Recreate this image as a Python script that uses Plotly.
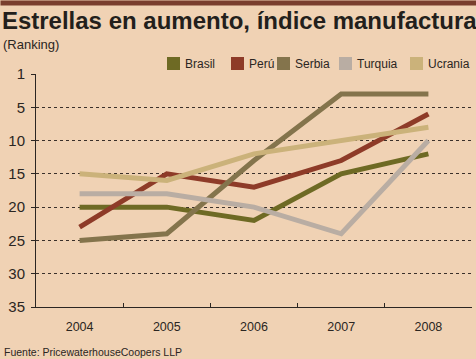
import plotly.graph_objects as go

years = ["2004", "2005", "2006", "2007", "2008"]
brasil = [20, 20, 22, 15, 12]
peru = [23, 15, 17, 13, 6]
serbia = [25, 24, 13, 3, 3]
turquia = [18, 18, 20, 24, 10]
ucrania = [15, 16, 12, 10, 8]

series_names = ["Brasil", "Perú", "Serbia", "Turquia", "Ucrania"]
series_values = [brasil, peru, serbia, turquia, ucrania]
series_colors = ["#6e6a24", "#8e3b28", "#84744c", "#b9ada3", "#cbb27a"]

tick_vals = [0, 5, 10, 15, 20, 25, 30, 35]
tick_text = ["1", "5", "10", "15", "20", "25", "30", "35"]

BG = "#f0d2b4"
TXT = "#2b2622"
FONT = "Liberation Sans, Arial, sans-serif"

W, H = 476, 359
L, R, T, B = 36, 4, 74, 52
PW, PH = W - L - R, H - T - B


def px_x(p):
    return (p - L) / PW


def px_y(p):
    return (H - B - p) / PH


fig = go.Figure()
for name, vals, col in zip(series_names, series_values, series_colors):
    fig.add_trace(go.Scatter(x=years, y=vals, mode="lines", name=name,
                             line=dict(color=col, width=5)))

# manual legend (swatch + label) placed above the plot
legend_swatch_left = [167, 231, 277, 339, 410]
shapes = []
annotations = [
    dict(text=" ", xref="paper", yref="paper", x=px_x(0), y=px_y(0),
         xanchor="left", yanchor="top", showarrow=False, width=W + 4, height=4,
         bgcolor="#7a3e2e", borderpad=0, font=dict(size=2)),
]
for name, col, sx in zip(series_names, series_colors, legend_swatch_left):
    shapes.append(dict(type="rect", xref="paper", yref="paper",
                       x0=px_x(sx), x1=px_x(sx + 13), y0=px_y(70), y1=px_y(57),
                       fillcolor=col, line=dict(width=0)))
    annotations.append(dict(text=name, xref="paper", yref="paper", x=px_x(sx + 16),
                            y=px_y(64), xanchor="left", yanchor="middle",
                            showarrow=False, font=dict(size=12, color=TXT)))

annotations += [
    dict(text="(Ranking)", xref="paper", yref="paper", x=px_x(1), y=px_y(45),
         xanchor="left", yanchor="middle", showarrow=False, font=dict(size=13)),
    dict(text="Fuente: PricewaterhouseCoopers LLP", xref="paper", yref="paper",
         x=px_x(2), y=px_y(352), xanchor="left", yanchor="middle", showarrow=False,
         font=dict(size=10.5)),
]

fig.update_layout(
    width=W, height=H,
    margin=dict(l=L, r=R, t=T, b=B, autoexpand=False),
    paper_bgcolor=BG, plot_bgcolor=BG,
    font=dict(family=FONT, color=TXT, size=13),
    showlegend=False,
    title=dict(text="<b>Estrellas en aumento, índice manufactura</b>",
               x=0.004, xanchor="left", xref="container",
               y=1 - 20.5 / H, yanchor="middle", yref="container",
               font=dict(size=24, family=FONT, color="#231f1c")),
    xaxis=dict(type="category", range=[-0.5, 4.5], tickson="boundaries",
               ticks="inside", ticklen=4, tickcolor=TXT, showline=True, linecolor=TXT,
               linewidth=1, showgrid=False, tickfont=dict(size=12.5),
               ticklabelstandoff=8),
    yaxis=dict(range=[35, 0], tickvals=tick_vals, ticktext=tick_text,
               ticks="outside", ticklen=4, tickcolor=TXT, showline=True, linecolor=TXT,
               linewidth=1, showgrid=True, gridcolor="#3a302a", griddash="dot",
               gridwidth=1, zeroline=False, tickfont=dict(size=15),
               ticklabelstandoff=3),
    annotations=annotations,
    shapes=shapes,
)

fig.write_html("out.html", config={"displayModeBar": False},
               post_script="document.body.style.margin='0';")
